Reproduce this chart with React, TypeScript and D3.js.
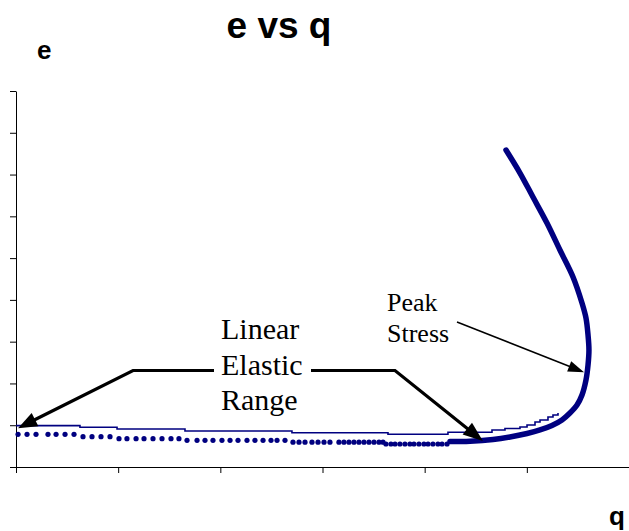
import React, { useEffect, useRef } from "react";
import * as d3 from "d3";

// ---- Data ----
const X_TICKS = [0, 1, 2, 3, 4, 5, 6];
const Y_TICKS = [0, 1, 2, 3, 4, 5, 6, 7, 8, 9];

// solid line series (stepped)
const LINE_Q = [0, 0.626, 0.989, 1.654, 2.701, 3.641, 4.228, 4.659, 4.786, 4.933, 5.002, 5.08, 5.129, 5.207, 5.256, 5.305];
const LINE_E = [0.99, 0.95, 0.91, 0.862, 0.821, 0.783, 0.831, 0.886, 0.921, 0.957, 1.005, 1.077, 1.125, 1.197, 1.245, 1.292];

// marker series, sparse part
const DOT_Q = [
  0.02, 0.108, 0.196, 0.313, 0.392, 0.48, 0.568,
  0.656, 0.744, 0.832, 0.92,
  1.008, 1.086, 1.175, 1.253, 1.341, 1.429, 1.517, 1.595,
  1.674, 1.772, 1.85, 1.928, 2.016, 2.095, 2.173, 2.261, 2.339, 2.418, 2.496, 2.555, 2.633,
  2.711, 2.77, 2.829, 2.897, 2.956, 3.015, 3.073, 3.161, 3.21, 3.259, 3.308, 3.357, 3.406, 3.455, 3.504, 3.553, 3.592,
  3.621, 3.67, 3.71, 3.758, 3.807, 3.856, 3.895, 3.944, 3.993, 4.033, 4.081, 4.13, 4.17, 4.219,
];
const DOT_E = [
  0.783, 0.783, 0.783, 0.783, 0.783, 0.783, 0.783,
  0.725, 0.725, 0.725, 0.725,
  0.677, 0.677, 0.677, 0.677, 0.677, 0.677, 0.677, 0.677,
  0.639, 0.639, 0.639, 0.639, 0.639, 0.639, 0.639, 0.639, 0.639, 0.639, 0.639, 0.639, 0.639,
  0.594, 0.594, 0.594, 0.594, 0.594, 0.594, 0.594, 0.594, 0.594, 0.594, 0.594, 0.594, 0.594, 0.594, 0.594, 0.594, 0.594,
  0.551, 0.551, 0.551, 0.551, 0.551, 0.551, 0.551, 0.551, 0.551, 0.551, 0.551, 0.551, 0.551, 0.551,
];

// marker series, dense part (markers overlap into a band)
const CURVE_Q = [4.248, 4.444, 4.669, 4.835, 5.002, 5.129, 5.246, 5.344, 5.422, 5.491, 5.54, 5.579, 5.599, 5.608, 5.599, 5.579, 5.54, 5.452, 5.324, 5.197, 5.06, 4.933, 4.796];
const CURVE_E = [0.61, 0.618, 0.658, 0.718, 0.802, 0.886, 0.993, 1.125, 1.292, 1.484, 1.723, 2.082, 2.441, 2.8, 3.159, 3.566, 3.925, 4.548, 5.194, 5.84, 6.462, 7.037, 7.587];

// annotation arrows: tip in data units
const ANNOT_TIP_Q = [0.02, 4.57, 5.56];
const ANNOT_TIP_E = [0.93, 0.62, 2.27];

const NAVY = "#000080";

export default function App() {
  const ref = useRef<SVGSVGElement | null>(null);

  useEffect(() => {
    const svg = d3.select(ref.current);
    svg.selectAll("*").remove();
    const W = 629;
    const H = 531;

    const x = d3.scaleLinear().domain([0, 6]).range([16, 629]);
    const y = d3.scaleLinear().domain([0, 9]).range([467, 91]);

    svg.attr("width", W).attr("height", H);
    svg.append("rect").attr("width", W).attr("height", H).attr("fill", "#fff");

    // title & axis labels
    svg.append("text").text("e vs q")
      .attr("x", 279).attr("y", 38)
      .attr("text-anchor", "middle")
      .attr("font-family", "Liberation Sans, Arial, sans-serif")
      .attr("font-weight", "bold").attr("font-size", 37);
    svg.append("text").text("e")
      .attr("x", 37).attr("y", 59)
      .attr("font-family", "Liberation Sans, Arial, sans-serif")
      .attr("font-weight", "bold").attr("font-size", 26);
    svg.append("text").text("q")
      .attr("x", 625).attr("y", 525)
      .attr("text-anchor", "end")
      .attr("font-family", "Liberation Sans, Arial, sans-serif")
      .attr("font-weight", "bold").attr("font-size", 26);

    // axes
    const yAxis = d3.axisLeft(y).tickValues(Y_TICKS).tickSize(6).tickSizeOuter(0).tickFormat(() => "");
    const xAxis = d3.axisBottom(x).tickValues(X_TICKS).tickSize(6).tickSizeOuter(0).tickFormat(() => "");
    svg.append("g").attr("transform", "translate(16,0)").call(yAxis)
      .call((g) => g.selectAll("path,line").attr("stroke", "#000"));
    svg.append("g").attr("transform", "translate(0,467)").call(xAxis)
      .call((g) => g.selectAll("path,line").attr("stroke", "#000"));

    // line series
    const linePts = LINE_Q.map((q, i) => [q, LINE_E[i]] as [number, number]);
    svg.append("path")
      .attr("d", d3.line<[number, number]>().x((d) => x(d[0])).y((d) => y(d[1])).curve(d3.curveStepAfter)(linePts) || "")
      .attr("fill", "none").attr("stroke", NAVY).attr("stroke-width", 1.6);

    // dense marker band
    const curvePts = CURVE_Q.map((q, i) => [q, CURVE_E[i]] as [number, number]);
    svg.append("path")
      .attr("d", d3.line<[number, number]>().x((d) => x(d[0])).y((d) => y(d[1])).curve(d3.curveCatmullRom)(curvePts) || "")
      .attr("fill", "none").attr("stroke", NAVY).attr("stroke-width", 5.5)
      .attr("stroke-linecap", "round").attr("stroke-linejoin", "round");

    // sparse markers
    svg.append("g").selectAll("circle")
      .data(DOT_Q.map((q, i) => [q, DOT_E[i]]))
      .join("circle")
      .attr("cx", (d) => x(d[0])).attr("cy", (d) => y(d[1]))
      .attr("r", 2.6).attr("fill", NAVY);

    // annotations
    const serif = "Liberation Serif, Times New Roman, serif";
    const addText = (lines: string[], x0: number, baselines: number[], size: number) => {
      lines.forEach((t, i) => {
        svg.append("text").text(t).attr("x", x0).attr("y", baselines[i])
          .attr("font-family", serif).attr("font-size", size).attr("fill", "#000");
      });
    };
    addText(["Linear", "Elastic", "Range"], 221, [339, 375, 410], 30);
    addText(["Peak", "Stress"], 387, [311, 342], 26);

    const arrow = (pts: [number, number][], tip: [number, number], w: number, headLen: number, headW: number) => {
      const prev = pts[pts.length - 1];
      const dx = tip[0] - prev[0];
      const dy = tip[1] - prev[1];
      const L = Math.hypot(dx, dy);
      const ux = dx / L, uy = dy / L;
      const bx = tip[0] - ux * headLen, by = tip[1] - uy * headLen;
      const all = [...pts, [bx + ux * 2, by + uy * 2] as [number, number]];
      svg.append("path").attr("d", d3.line()(all) || "")
        .attr("fill", "none").attr("stroke", "#000").attr("stroke-width", w).attr("stroke-linejoin", "miter");
      const px = -uy, py = ux;
      svg.append("polygon")
        .attr("points", [[tip[0], tip[1]], [bx + px * headW / 2, by + py * headW / 2], [bx - px * headW / 2, by - py * headW / 2]].map((p) => p.join(",")).join(" "))
        .attr("fill", "#000");
    };
    arrow([[214, 370.5], [133, 370.5]], [x(ANNOT_TIP_Q[0]), y(ANNOT_TIP_E[0])], 3.2, 19, 15);
    arrow([[311, 370.5], [395, 370.5]], [x(ANNOT_TIP_Q[1]), y(ANNOT_TIP_E[1])], 3.2, 20, 15);
    arrow([[457, 322]], [x(ANNOT_TIP_Q[2]), y(ANNOT_TIP_E[2])], 1.5, 16, 11);
  }, []);

  return <svg ref={ref} style={{ position: "absolute", left: 0, top: 0, display: "block" }} />;
}
